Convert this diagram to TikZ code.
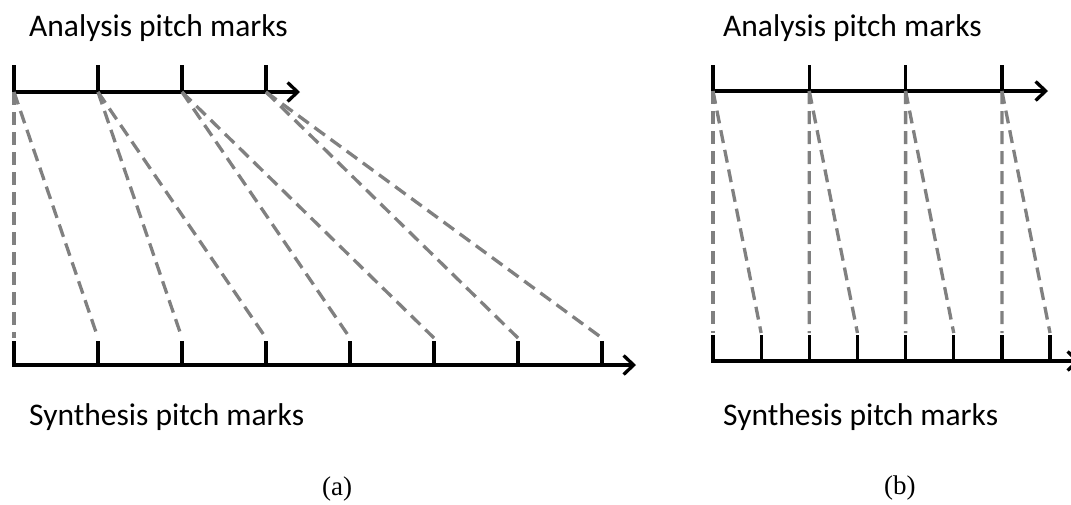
\documentclass[tikz,border=0pt]{standalone}
\usepackage{fontspec}
\setmainfont{Carlito}
\newfontfamily\capfont{Liberation Serif}
\usetikzlibrary{arrows.meta}
\begin{document}
\begin{tikzpicture}[x=1pt,y=-1pt,
  axis/.style={line width=3.3pt,-{Straight Barb[length=10pt,width=19pt,line width=3.3pt]}},
  tickline/.style={line width=3.3pt},
  link/.style={draw={rgb,255:red,128;green,128;blue,128},line width=3.3pt,dash pattern=on 13pt off 7pt},
  lbl/.style={anchor=base west,inner sep=0pt,font=\fontsize{31.5}{36}\selectfont},
  sublbl/.style={anchor=base west,inner sep=0pt,font=\capfont\fontsize{27}{30}\selectfont}]
\useasboundingbox (0,0) rectangle (1071,504);
% ---------- panel (a) ----------
\node[lbl] (la) at (29,36) {Analysis pitch marks};
\node[lbl] (ls) at (29,425) {Synthesis pitch marks};
\node[sublbl] (capa) at (322,495) {(a)};
\foreach \i in {0,...,3}{
  \coordinate (A\i) at ({14+84*\i},92);
  \coordinate (At\i) at ({14+84*\i},65);
}
\foreach \j in {0,...,7}{
  \coordinate (S\j) at ({14+84*\j},365);
  \coordinate (St\j) at ({14+84*\j},341);
  \coordinate (Se\j) at ({14+84*\j},338);
}
\coordinate (Aend) at (300,92);
\coordinate (Send) at (636,365);
\draw[axis] ([xshift=-1.6pt]A0) -- (Aend);
\draw[axis] ([xshift=-1.6pt]S0) -- (Send);
\foreach \i in {0,...,3}{\draw[tickline] (At\i) -- (A\i);}
\foreach \j in {0,...,7}{\draw[tickline] (St\j) -- (S\j);}
\foreach \i/\a/\b in {0/0/1,1/2/3,2/4/5,3/6/7}{
  \draw[link] (A\i) -- (Se\a);
  \draw[link] (A\i) -- (Se\b);
}
% ---------- panel (b) ----------
\node[lbl] (ra) at (723,36) {Analysis pitch marks};
\node[lbl] (rs) at (723,425) {Synthesis pitch marks};
\node[sublbl] (capb) at (884,494) {(b)};
\foreach \i in {0,...,3}{
  \coordinate (B\i) at ({713+96.3*\i},91);
  \coordinate (Bt\i) at ({713+96.3*\i},65);
}
\foreach \j in {0,...,7}{
  \coordinate (T\j) at ({713+48.15*\j},361);
  \coordinate (Tt\j) at ({713+48.15*\j},335);
  \coordinate (Te\j) at ({713+48.15*\j},333);
}
\coordinate (Bend) at (1048,91);
\coordinate (Tend) at (1080,361);
\draw[axis] ([xshift=-1.6pt]B0) -- (Bend);
\draw[axis] ([xshift=-1.6pt]T0) -- (Tend);
\foreach \i in {0,...,3}{\draw[tickline] (Bt\i) -- (B\i);}
\foreach \j in {0,...,7}{\draw[tickline] (Tt\j) -- (T\j);}
\foreach \i/\a/\b in {0/0/1,1/2/3,2/4/5,3/6/7}{
  \draw[link] (B\i) -- (Te\a);
  \draw[link] (B\i) -- (Te\b);
}
\end{tikzpicture}
\end{document}
